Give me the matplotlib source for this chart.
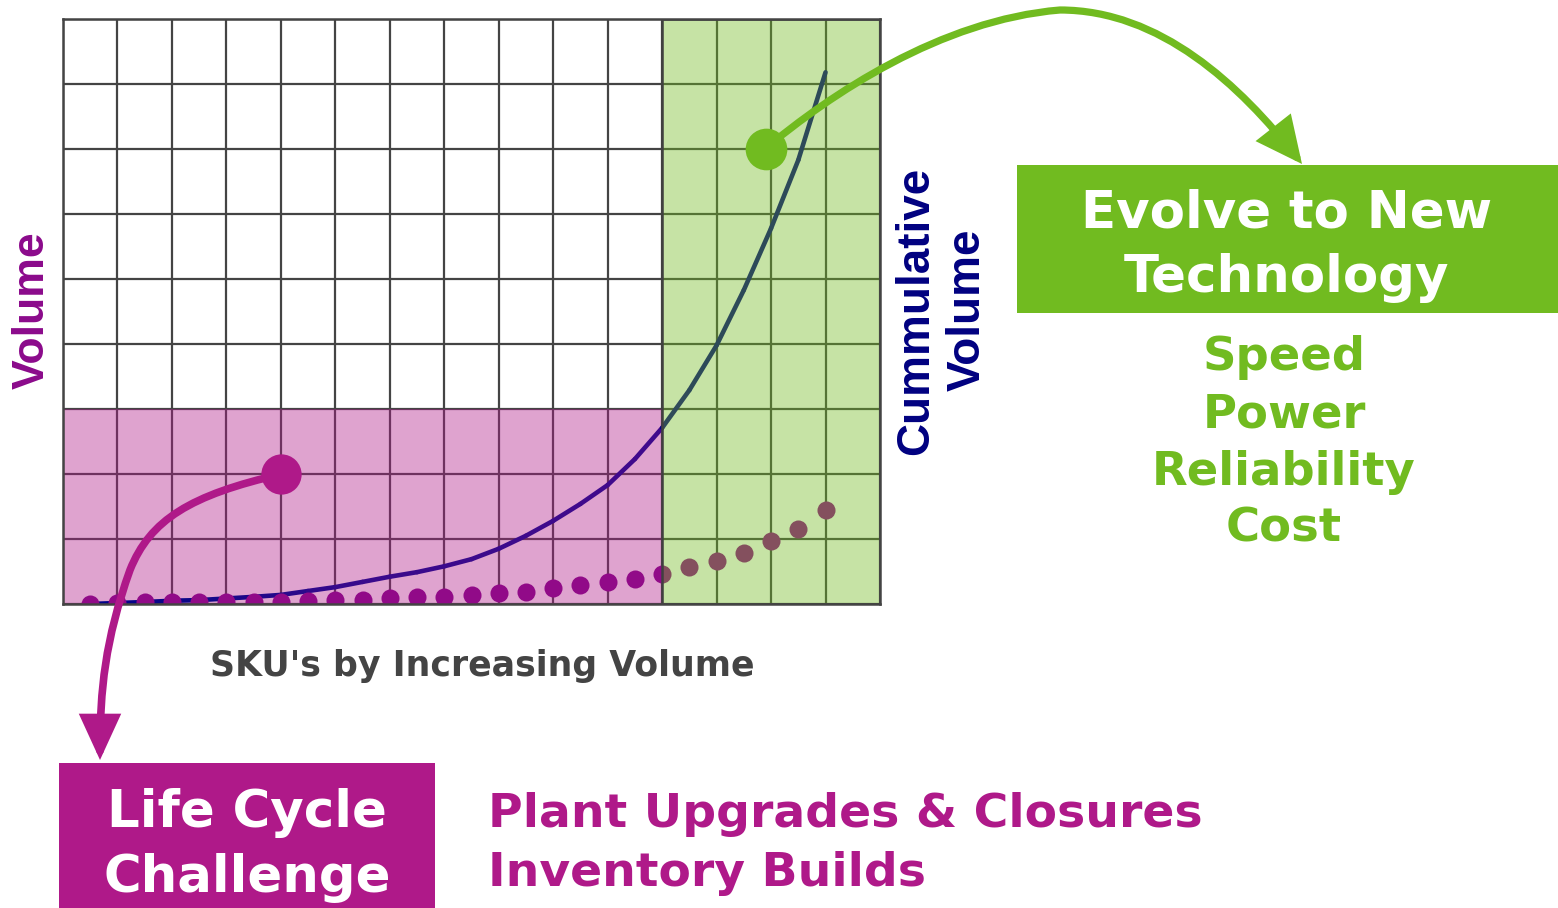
import numpy as np
import matplotlib
matplotlib.use("Agg")
import matplotlib.pyplot as plt
from matplotlib.patches import Rectangle, FancyArrowPatch
from matplotlib.path import Path
from matplotlib.collections import LineCollection
from matplotlib.colors import LinearSegmentedColormap

# ---------------- data ----------------
sku_pos = [0.5, 1.0, 1.5, 2.0, 2.5, 3.0, 3.5, 4.0, 4.5, 5.0, 5.5, 6.0, 6.5, 7.0,
           7.5, 8.0, 8.5, 9.0, 9.5, 10.0, 10.5, 11.0, 11.5, 12.0, 12.5, 13.0, 13.5, 14.0]
cum_volume = [0.0, 0.015, 0.03, 0.05, 0.06, 0.085, 0.11, 0.14, 0.2, 0.26, 0.34, 0.42,
              0.49, 0.58, 0.69, 0.85, 1.05, 1.28, 1.54, 1.83, 2.23, 2.71, 3.29, 3.98,
              4.83, 5.78, 6.83, 8.18]
sku_volume = [0.0, 0.015, 0.03, 0.03, 0.03, 0.03, 0.03, 0.035, 0.05, 0.06, 0.06, 0.09,
              0.11, 0.11, 0.14, 0.17, 0.18, 0.25, 0.29, 0.34, 0.38, 0.46, 0.57, 0.66,
              0.78, 0.97, 1.15, 1.45]
x_cols = list(range(16))
y_rows = list(range(10))
lifecycle_zone = (0, 11, 0, 3)      # x0, x1, y0, y1
newtech_zone = (11, 15, 0, 9)
lifecycle_point = (4.0, 2.0)
newtech_point = (12.9, 7.0)

MAGENTA = "#AF1989"
GREEN = "#71BB20"
PURPLE = "#910A88"
NAVY = "#000080"
GRID = "#444444"

W, H = 1558, 908
fig = plt.figure(figsize=(W / 100, H / 100), dpi=100)
fig.patch.set_facecolor("white")

# ---------------- main grid axes ----------------
ax = fig.add_axes([63 / W, (H - 604) / H, (880 - 63) / W, (604 - 19) / H])
ax.set_xlim(x_cols[0], x_cols[-1])
ax.set_ylim(y_rows[0], y_rows[-1])
ax.set_xticks(x_cols)
ax.set_yticks(y_rows)
ax.tick_params(length=0, labelbottom=False, labelleft=False)
ax.set_axisbelow(True)
ax.grid(True, color=GRID, lw=1.6)
for sp in ax.spines.values():
    sp.set_color(GRID)
    sp.set_linewidth(1.8)
    sp.set_zorder(6)

lx0, lx1, ly0, ly1 = lifecycle_zone
ax.add_patch(Rectangle((lx0, ly0), lx1 - lx0, ly1 - ly0, facecolor=MAGENTA,
                       alpha=0.4, edgecolor="none", zorder=1))

# cumulative volume curve with colour gradient
pts = np.column_stack([sku_pos, cum_volume])
segs = np.stack([pts[:-1], pts[1:]], axis=1)
cmap = LinearSegmentedColormap.from_list(
    "cum", [(0.0, "#00008A"), (0.12, "#0A0688"), (0.35, "#380A8C"),
            (0.76, "#400A8C"), (0.8, "#000080"), (1.0, "#000080")])
mid = (np.array(sku_pos[:-1]) + np.array(sku_pos[1:])) / 2
cvals = (mid - sku_pos[0]) / (sku_pos[-1] - sku_pos[0])
lc = LineCollection(segs, colors=cmap(cvals), linewidths=3.3, zorder=2.5,
                    capstyle="round", joinstyle="round")
ax.add_collection(lc)

ax.plot(sku_pos, sku_volume, "o", ms=13, color=PURPLE, mec="none", zorder=3)

gx0, gx1, gy0, gy1 = newtech_zone
ax.add_patch(Rectangle((gx0, gy0), gx1 - gx0, gy1 - gy0, facecolor=GREEN,
                       alpha=0.4, edgecolor="none", zorder=4))
ax.add_patch(Rectangle((gx0, gy0), gx1 - gx0, gy1 - gy0, fill=False,
                       edgecolor="#404040", lw=1.8, zorder=5))

ax.plot(*lifecycle_point, "o", ms=29, color=MAGENTA, mec="none", zorder=7, clip_on=False)
ax.plot(*newtech_point, "o", ms=30, color=GREEN, mec="none", zorder=7, clip_on=False)

# ---------------- overlay (annotations in pixel space) ----------------
ov = fig.add_axes([0, 0, 1, 1], zorder=10)
ov.set_xlim(0, W)
ov.set_ylim(H, 0)
ov.axis("off")

green_path = Path([(766, 148), (830, 95), (940, 20), (1060, 10),
                   (1160, 10), (1240, 85), (1302, 164)],
                  [Path.MOVETO] + [Path.CURVE4] * 6)
ov.add_patch(FancyArrowPatch(path=green_path,
                             arrowstyle="-|>,head_length=25,head_width=12",
                             mutation_scale=1, lw=5.2, color=GREEN,
                             joinstyle="miter"))

mag_path = Path([(282, 474), (190, 495), (150, 520), (130, 570),
                 (105, 640), (100, 690), (100, 760)],
                [Path.MOVETO] + [Path.CURVE4] * 6)
ov.add_patch(FancyArrowPatch(path=mag_path,
                             arrowstyle="-|>,head_length=24,head_width=11",
                             mutation_scale=1, lw=5.5, color=MAGENTA,
                             joinstyle="miter"))

# boxes
ov.add_patch(Rectangle((1017, 165), W - 1017, 148, facecolor=GREEN, edgecolor="none"))
ov.add_patch(Rectangle((59, 763), 376, H - 763, facecolor=MAGENTA, edgecolor="none"))

bold = dict(family="DejaVu Sans", weight="bold")
ov.text(1287, 228, "Evolve to New", color="white", fontsize=37, ha="center", va="baseline", **bold)
ov.text(1287, 292, "Technology", color="white", fontsize=37, ha="center", va="baseline", **bold)
ov.text(247, 827, "Life Cycle", color="white", fontsize=37, ha="center", va="baseline", **bold)
ov.text(247, 892, "Challenge", color="white", fontsize=37, ha="center", va="baseline", **bold)

ov.text(488, 827, "Plant Upgrades & Closures", color=MAGENTA, fontsize=34, ha="left", va="baseline", **bold)
ov.text(488, 886, "Inventory Builds", color=MAGENTA, fontsize=34, ha="left", va="baseline", **bold)

for label, base in zip(["Speed", "Power", "Reliability", "Cost"], [370, 428, 485, 542]):
    ov.text(1284, base, label, color=GREEN, fontsize=33.5, ha="center", va="baseline", **bold)

ov.text(482, 676, "SKU's by Increasing Volume", color="#444444", fontsize=25,
        ha="center", va="baseline", **bold)

arial = dict(family="Liberation Sans", weight="bold")
ov.text(32, 310, "Volume", color="#8B0A8B", fontsize=32, rotation=90,
        ha="center", va="center", **arial)
ov.text(916, 311, "Cummulative", color="#000080", fontsize=33, rotation=90,
        ha="center", va="center", **arial)
ov.text(968, 310, "Volume", color="#000080", fontsize=33, rotation=90,
        ha="center", va="center", **arial)

fig.savefig("out.png", dpi=100, facecolor="white")
